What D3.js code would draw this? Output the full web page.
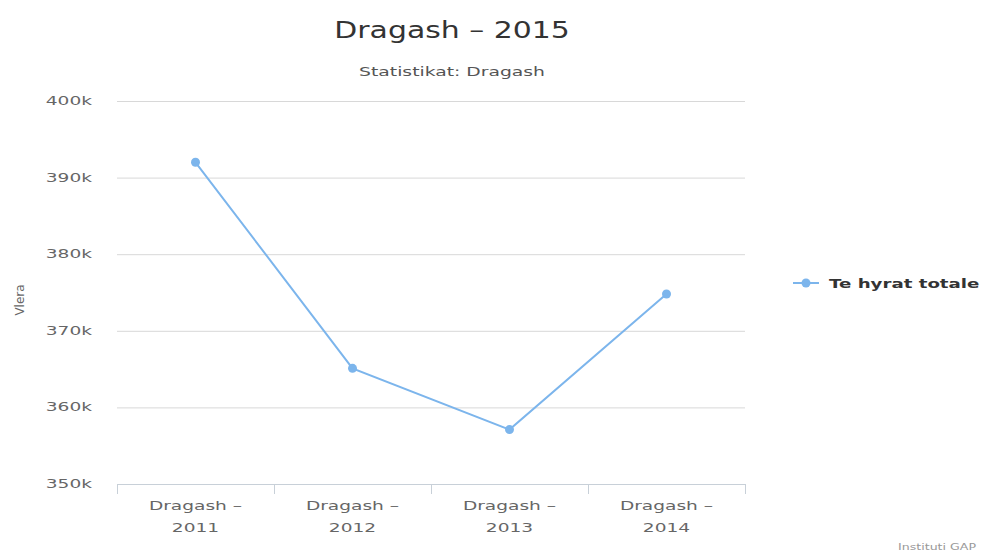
<!DOCTYPE html>
<html>
<head>
<meta charset="utf-8">
<script src="https://cdn.jsdelivr.net/npm/d3@7"></script>
<style>
  body { margin: 0; background: #fff; }
  svg { font-family: "DejaVu Sans", "Lucida Grande", sans-serif; }
</style>
</head>
<body>
<svg width="984" height="556"></svg>
<script>
const categories = ['Dragash – 2011', 'Dragash – 2012', 'Dragash – 2013', 'Dragash – 2014']
const values = [392000, 365100, 357100, 374800]
const yTicks = [350000, 360000, 370000, 380000, 390000, 400000]
const seriesName = 'Te hyrat totale'

const svg = d3.select('svg')
const width = +svg.attr('width')

const margin = { left: 117, right: 239, top: 101, bottom: 72 }
const plotRight = width - margin.right

const x = d3.scaleBand()
  .domain(categories)
  .range([margin.left, plotRight])

const y = d3.scaleLinear()
  .domain([350000, 400000])
  .range([484, margin.top])

// the source picture's text is stretched wide, so squash/stretch each label
const place = (px, py, k) => `translate(${px}, ${py}) scale(${k}, 1)`

// title
svg.append('text')
  .attr('transform', place(452, 38, 1.3))
  .attr('text-anchor', 'middle')
  .attr('font-size', 23)
  .attr('fill', '#333')
  .text('Dragash – 2015')

svg.append('text')
  .attr('transform', place(452, 76, 1.5))
  .attr('text-anchor', 'middle')
  .attr('font-size', 12.5)
  .attr('fill', '#555')
  .text('Statistikat: Dragash')

// grid
svg.append('g')
  .selectAll('line')
  .data(yTicks.slice(1))
  .join('line')
  .attr('x1', margin.left).attr('x2', plotRight)
  .attr('y1', d => y(d) + 0.5).attr('y2', d => y(d) + 0.5)
  .attr('stroke', '#d8d8d8')
  .attr('stroke-width', 1)

// y labels
svg.append('g')
  .selectAll('text')
  .data(yTicks)
  .join('text')
  .attr('transform', d => place(92, y(d) + 4, 1.55))
  .attr('text-anchor', 'end')
  .attr('font-size', 12)
  .attr('fill', '#666')
  .text(d => d3.format('d')(d / 1000) + 'k')

svg.append('text')
  .attr('transform', 'translate(24, 300) rotate(-90)')
  .attr('text-anchor', 'middle')
  .attr('font-size', 12)
  .attr('fill', '#666')
  .text('Vlera')

// x axis
const xAxis = svg.append('g')
xAxis.append('line')
  .attr('x1', margin.left).attr('x2', plotRight)
  .attr('y1', 484.5).attr('y2', 484.5)
  .attr('stroke', '#c8d0d8')
const tickPos = categories.map(c => x(c)).concat([x(categories[categories.length - 1]) + x.bandwidth()])
xAxis.selectAll('.tick')
  .data(tickPos)
  .join('line')
  .attr('x1', d => Math.round(d) + 0.5).attr('x2', d => Math.round(d) + 0.5)
  .attr('y1', 484).attr('y2', 494)
  .attr('stroke', '#c8d0d8')

const labels = xAxis.selectAll('text')
  .data(categories)
  .join('text')
  .attr('transform', d => place(x(d) + x.bandwidth() / 2, 0, 1.55))
  .attr('text-anchor', 'middle')
  .attr('font-size', 12)
  .attr('fill', '#666')
labels.append('tspan')
  .attr('x', 0)
  .attr('y', 510)
  .text(d => d.split(' ').slice(0, 2).join(' '))
labels.append('tspan')
  .attr('x', 0)
  .attr('y', 532)
  .text(d => d.split(' ')[2])

// line
const line = d3.line()
  .x((d, i) => x(categories[i]) + x.bandwidth() / 2)
  .y(d => y(d))

svg.append('path')
  .datum(values)
  .attr('d', line)
  .attr('fill', 'none')
  .attr('stroke', '#7cb5ec')
  .attr('stroke-width', 2)

svg.append('g')
  .selectAll('circle')
  .data(values)
  .join('circle')
  .attr('cx', (d, i) => x(categories[i]) + x.bandwidth() / 2)
  .attr('cy', d => y(d))
  .attr('r', 4.5)
  .attr('fill', '#7cb5ec')

// legend
const legend = svg.append('g').attr('transform', 'translate(793, 283)')
legend.append('line')
  .attr('x1', 0).attr('x2', 26)
  .attr('stroke', '#7cb5ec').attr('stroke-width', 2)
legend.append('circle')
  .attr('cx', 13).attr('r', 4.5)
  .attr('fill', '#7cb5ec')
legend.append('text')
  .attr('transform', place(36, 4.5, 1.4))
  .attr('font-size', 13)
  .attr('font-weight', 'bold')
  .attr('fill', '#333')
  .text(seriesName)

// credits
svg.append('text')
  .attr('transform', place(976, 550, 1.4))
  .attr('text-anchor', 'end')
  .attr('font-size', 9)
  .attr('fill', '#999')
  .text('Instituti GAP')
</script>
</body>
</html>
